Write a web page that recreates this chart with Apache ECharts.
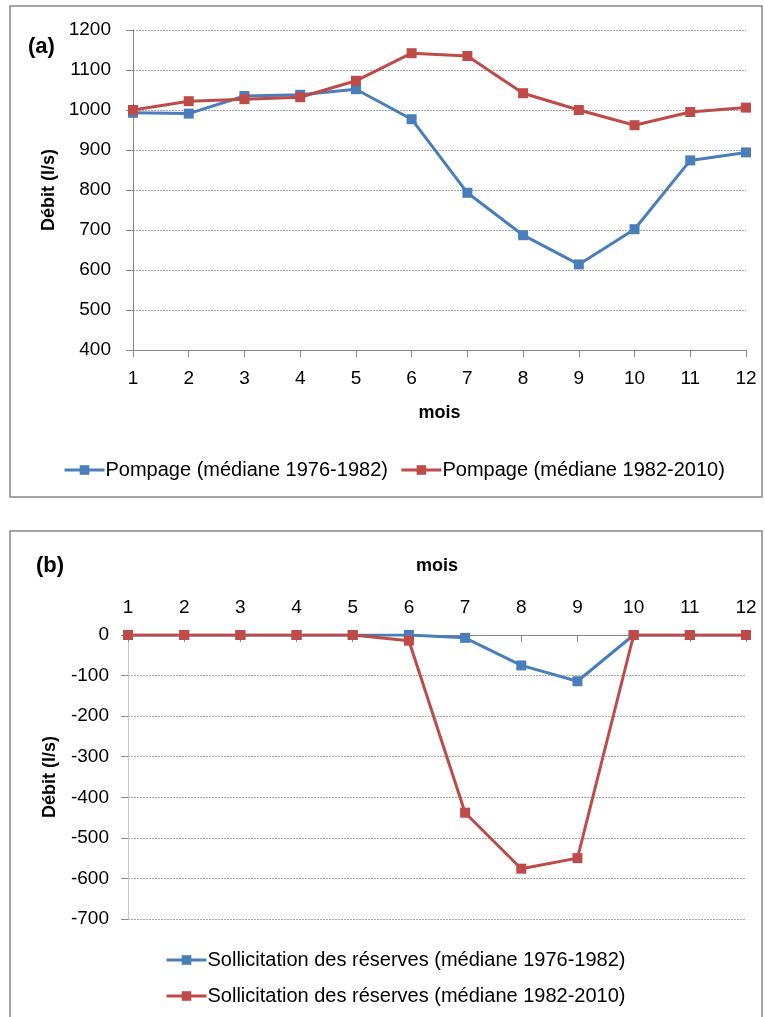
<!DOCTYPE html>
<html>
<head>
<meta charset="utf-8">
<script src="https://cdn.jsdelivr.net/npm/echarts@6/dist/echarts.min.js"></script>
<style>
  html, body { margin: 0; padding: 0; background: #fff; }
  #chart { width: 765px; height: 1017px; }
</style>
</head>
<body>
<div id="chart"></div>
<script>
// months (x categories)
const mois = ['1', '2', '3', '4', '5', '6', '7', '8', '9', '10', '11', '12'];

// (a) pompage, l/s
const pompage7682 = [993, 991, 1035, 1038, 1052, 977, 793, 687, 614, 702, 874, 894];
const pompage8210 = [1000, 1022, 1027, 1032, 1073, 1142, 1135, 1042, 1000, 962, 995, 1006];

// (b) sollicitation des réserves, l/s
const sollic7682 = [0, 0, 0, 0, 0, 0, -7, -75, -114, 0, 0, 0];
const sollic8210 = [0, 0, 0, 0, 0, -14, -438, -576, -550, 0, 0, 0];

const BLUE = '#4A7EBB';
const RED = '#BE4B48';
const FONT = 'Liberation Sans';

const chart = echarts.init(document.getElementById('chart'));

const lineSeries = (name, data, color, idx) => ({
  name: name,
  type: 'line',
  xAxisIndex: idx,
  yAxisIndex: idx,
  data: data,
  symbol: 'rect',
  symbolSize: 10,
  showAllSymbol: true,
  color: color,
  lineStyle: { width: 3, color: color },
  itemStyle: { color: color },
  emphasis: { disabled: true },
  animation: false
});

const gridLine = { show: true, lineStyle: { color: '#a6a6a6', type: [2, 1], width: 1 } };
const axisText = { color: '#000', fontSize: 19, fontFamily: FONT };
const nameText = { color: '#000', fontSize: 18, fontWeight: 'bold', fontFamily: FONT };
const plain = (v) => String(v);

const option = {
  backgroundColor: '#fff',
  animation: false,
  textStyle: { fontFamily: FONT },
  title: [
    { text: '(a)', left: 23, top: 31, textStyle: { fontSize: 22, fontWeight: 'bold', color: '#000', fontFamily: FONT } },
    { text: '(b)', left: 31, top: 550, textStyle: { fontSize: 22, fontWeight: 'bold', color: '#000', fontFamily: FONT } }
  ],
  graphic: [
    { type: 'rect', shape: { x: 10, y: 6, width: 752, height: 491 }, style: { fill: null, stroke: '#878787', lineWidth: 1.5 } },
    { type: 'rect', shape: { x: 10, y: 531, width: 752, height: 520 }, style: { fill: null, stroke: '#878787', lineWidth: 1.5 } }
  ],
  legend: [
    {
      left: 58, top: 455,
      itemWidth: 40, itemHeight: 12, itemGap: 12,
      lineStyle: { width: 3 },
      data: ['Pompage (médiane 1976-1982)', 'Pompage (médiane 1982-2010)'],
      textStyle: { fontSize: 20, color: '#000', fontFamily: FONT, padding: [0, 0, 0, -4] }
    },
    {
      left: 160, top: 945, orient: 'vertical',
      itemWidth: 40, itemHeight: 12, itemGap: 16,
      lineStyle: { width: 3 },
      data: ['Sollicitation des réserves (médiane 1976-1982)', 'Sollicitation des réserves (médiane 1982-2010)'],
      textStyle: { fontSize: 20, color: '#000', fontFamily: FONT, padding: [0, 0, 0, -4] }
    }
  ],
  grid: [
    { left: 133, right: 19, top: 30, height: 320 },
    { left: 128, right: 19, top: 635, height: 284 }
  ],
  xAxis: [
    {
      gridIndex: 0, type: 'category', data: mois, boundaryGap: false,
      name: 'mois', nameLocation: 'middle', nameGap: 54, nameTextStyle: nameText,
      axisLine: { lineStyle: { color: '#888', width: 1 } },
      axisTick: { show: true, length: 7, lineStyle: { color: '#888' } },
      axisLabel: Object.assign({ margin: 19 }, axisText),
      splitLine: { show: false }
    },
    {
      gridIndex: 1, type: 'category', data: mois, boundaryGap: false, position: 'top',
      name: 'mois', nameLocation: 'middle', nameGap: 60, nameTextStyle: nameText,
      axisLine: { lineStyle: { color: '#888', width: 1 } },
      axisTick: { show: true, inside: true, length: 7, lineStyle: { color: '#888' } },
      axisLabel: Object.assign({ margin: 18 }, axisText),
      splitLine: { show: false }
    }
  ],
  yAxis: [
    {
      gridIndex: 0, type: 'value', min: 400, max: 1200, interval: 100,
      name: 'Débit (l/s)', nameLocation: 'middle', nameGap: 74, nameTextStyle: nameText,
      axisLine: { show: true, lineStyle: { color: '#888', width: 1 } },
      axisTick: { show: true, length: 7, lineStyle: { color: '#888' } },
      axisLabel: Object.assign({ margin: 22, formatter: plain }, axisText),
      splitLine: gridLine
    },
    {
      gridIndex: 1, type: 'value', min: -700, max: 0, interval: 100,
      name: 'Débit (l/s)', nameLocation: 'middle', nameGap: 69, nameTextStyle: nameText,
      axisLine: { show: true, lineStyle: { color: '#c8c8c8', width: 1 } },
      axisTick: { show: true, length: 7, lineStyle: { color: '#888' } },
      axisLabel: Object.assign({ margin: 19, formatter: plain }, axisText),
      splitLine: gridLine
    }
  ],
  series: [
    lineSeries('Pompage (médiane 1976-1982)', pompage7682, BLUE, 0),
    lineSeries('Pompage (médiane 1982-2010)', pompage8210, RED, 0),
    lineSeries('Sollicitation des réserves (médiane 1976-1982)', sollic7682, BLUE, 1),
    lineSeries('Sollicitation des réserves (médiane 1982-2010)', sollic8210, RED, 1)
  ]
};

chart.setOption(option);
</script>
</body>
</html>
